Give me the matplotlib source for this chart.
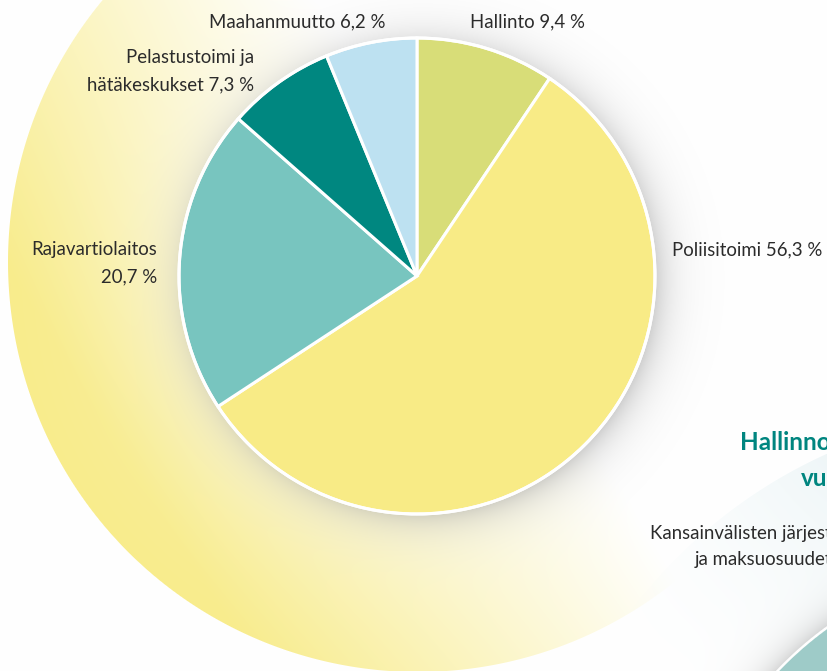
import numpy as np
import matplotlib
matplotlib.use("Agg")
import matplotlib.pyplot as plt

# budget shares by sector (%)
labels = ["Hallinto", "Poliisitoimi", "Rajavartiolaitos",
          "Pelastustoimi ja\nhätäkeskukset", "Maahanmuutto"]
shares = [9.4, 56.3, 20.7, 7.3, 6.2]
colors = ["#d8dd78", "#f8eb86", "#78c5bf", "#008780", "#bde1f1"]

W, H = 828, 671
fig = plt.figure(figsize=(W / 100, H / 100), dpi=100)
ax = fig.add_axes([0, 0, 1, 1])

# background: big yellow circle, teal circles, soft shadows
yy, xx = np.mgrid[0:H, 0:W] + 0.5
img = np.ones((H, W, 3))


def blend(img, color, alpha):
    c = np.array(matplotlib.colors.to_rgb(color))
    a = np.clip(alpha, 0, 1)[..., None]
    return img * (1 - a) + c * a


pie_c = (417, 276)
pie_r = 238

# yellow disc, linear gradient from bottom-left to top-right
d_big = np.hypot(xx - 418, yy - 262)
proj = 0.85 * xx - 0.53 * yy
a_y = np.clip(0.6 - proj / 450, 0, 0.9) * np.clip(410 - d_big + 0.5, 0, 1)
img = blend(img, "#f7e97a", a_y)

# pale teal ring and teal disc, lower right
tc = (1035, 915)
d_t = np.hypot(xx - tc[0], yy - tc[1])
a_t = np.clip((yy - 640) / -250 + 0.2, 0, 1) * 0.55 * np.clip(506 - d_t + 0.5, 0, 1)
a_t *= np.clip((xx - 600) / 250, 0, 1)
img = blend(img, "#dcecef", a_t)
a_ts = 0.3 * np.exp(-np.clip(d_t - 356, 0, None) / 14) * (d_t > 354)
img = blend(img, "#808080", a_ts)
img = blend(img, "#ffffff", np.clip(356 - d_t + 0.5, 0, 1))
img = blend(img, "#9ecbc8", np.clip(353.5 - d_t + 0.5, 0, 1))

# white glow and shadow round the pie
d_g = np.hypot(xx - pie_c[0], yy - pie_c[1])
img = blend(img, "#ffffff", 0.45 * np.exp(-np.clip(d_g - pie_r, 0, None) / 70))
d_p = np.hypot(xx - (pie_c[0] + 6), yy - (pie_c[1] + 4))
a_s = 0.36 * np.exp(-np.clip(d_p - pie_r + 6, 0, None) / 18)
img = blend(img, "#7a7a7a", a_s)

ax.imshow(img, extent=(0, W, H, 0), interpolation="bilinear", zorder=0)

# pie in pixel space; y axis is inverted, so counterclock in data = clockwise on screen
wedges, _ = ax.pie(shares, colors=colors, startangle=-90, counterclock=True,
                   radius=pie_r, center=pie_c, frame=True,
                   wedgeprops=dict(edgecolor="white", linewidth=2.2))
for w in wedges:
    w.set_zorder(3)
ax.add_patch(plt.Circle(pie_c, pie_r, fill=False, ec="white", lw=2.2, zorder=4))
ax.set_xlim(0, W)
ax.set_ylim(H, 0)
ax.set_aspect("auto")
ax.axis("off")

font = dict(family=["Lato", "DejaVu Sans"], fontweight="normal", color="#2b2b2b", fontsize=13.4)
ax.text(470, 22, "Hallinto 9,4 %", ha="left", va="center", **font)
ax.text(386, 22, "Maahanmuutto 6,2 %", ha="right", va="center", **font)
ax.text(254, 57, "Pelastustoimi ja", ha="right", va="center", **font)
ax.text(254, 85, "hätäkeskukset 7,3 %", ha="right", va="center", **font)
ax.text(157, 250, "Rajavartiolaitos", ha="right", va="center", **font)
ax.text(157, 277, "20,7 %", ha="right", va="center", **font)
ax.text(672, 250, "Poliisitoimi 56,3 %", ha="left", va="center", **font)

head = dict(family=["Lato", "DejaVu Sans"], fontweight="bold", color="#00857f", fontsize=17.5)
ax.text(740, 442, "Hallinnonala", ha="left", va="center", **head)
ax.text(801, 478, "vuosi", ha="left", va="center", **head)
ax.text(650, 534, "Kansainvälisten järjestöjen", ha="left", va="center", **font)
ax.text(695, 560, "ja maksuosuudet", ha="left", va="center", **font)

fig.savefig("out.png", dpi=100)
